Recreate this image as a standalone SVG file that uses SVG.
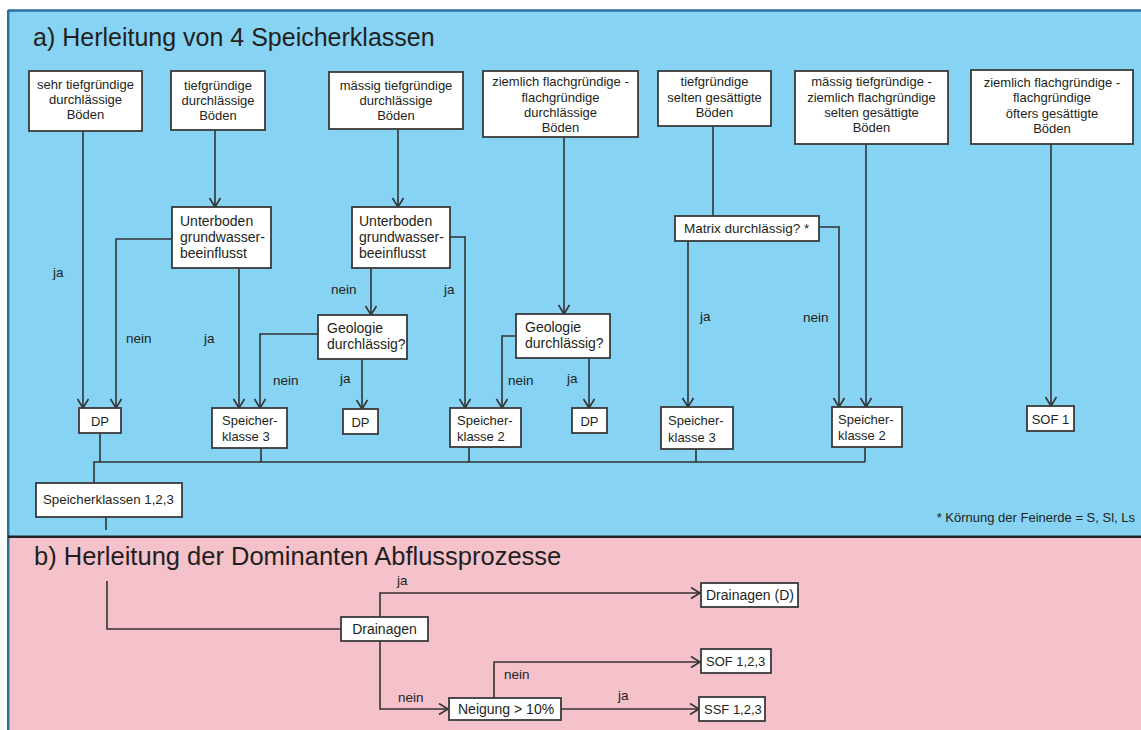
<svg xmlns="http://www.w3.org/2000/svg" width="1141" height="730" viewBox="0 0 1141 730">
<style>
  text { font-family: "Liberation Sans", Arial, sans-serif; fill: #231f20; }
  .box { fill: #ffffff; stroke: #3a3a3a; stroke-width: 1.8; }
  .t13 { font-size: 13px; }
  .t14 { font-size: 14px; }
  .lbl { font-size: 13.5px; }
  .c { text-anchor: middle; }
  .ln { fill: none; stroke: #333333; stroke-width: 1.6; }
  .arr { marker-end: url(#arrow); }
  .title { font-size: 25px; }
</style>
<defs>
  <marker id="arrow" markerUnits="userSpaceOnUse" markerWidth="14" markerHeight="14" viewBox="0 0 14 14" refX="11" refY="6" orient="auto">
    <path d="M2,0.5 L11,6 L2,11.5" fill="none" stroke="#333333" stroke-width="1.6"/>
  </marker>
</defs>

<!-- panels -->
<rect x="0" y="0" width="1141" height="730" fill="#ffffff"/>
<rect x="8" y="10.5" width="1133" height="526" fill="#86d3f4"/>
<rect x="8" y="537" width="1133" height="193" fill="#f5c2cb"/>
<line x1="8" y1="10.5" x2="1141" y2="10.5" stroke="#2b6f9c" stroke-width="2.5"/>
<line x1="8.2" y1="10" x2="8.2" y2="730" stroke="#2b6f9c" stroke-width="2.5"/>
<line x1="8" y1="536.7" x2="1141" y2="536.7" stroke="#232323" stroke-width="2.6"/>

<text class="title" x="33" y="46">a)  Herleitung von 4 Speicherklassen</text>
<text class="title" x="34" y="565" style="font-size:25.5px">b) Herleitung der Dominanten Abflussprozesse</text>
<text class="t13" x="1135" y="522" text-anchor="end">* Körnung der Feinerde = S, Sl, Ls</text>

<!-- connectors -->
<g id="connectors">
  <path class="ln arr" d="M83,131 V408"/>
  <path class="ln arr" d="M172,239 H116 V408"/>
  <path class="ln arr" d="M215,130 V207"/>
  <path class="ln arr" d="M239,268 V408"/>
  <path class="ln arr" d="M398,129 V207"/>
  <path class="ln arr" d="M371,268 V315"/>
  <path class="ln arr" d="M450,237 H465 V408"/>
  <path class="ln arr" d="M318,334 H260 V408"/>
  <path class="ln arr" d="M362,359 V409"/>
  <path class="ln arr" d="M564,137 V314"/>
  <path class="ln arr" d="M516,336 H502 V408"/>
  <path class="ln arr" d="M589,358 V408"/>
  <path class="ln" d="M713,126 V216"/>
  <path class="ln arr" d="M688,241 V407"/>
  <path class="ln arr" d="M819,227 H839 V407"/>
  <path class="ln arr" d="M866,144 V407"/>
  <path class="ln arr" d="M1051,144 V406"/>
  <!-- bus -->
  <path class="ln" d="M94,483 V462 H865"/>
  <path class="ln" d="M100,433 V462"/>
  <path class="ln" d="M261,448 V462"/>
  <path class="ln" d="M469,447 V462"/>
  <path class="ln" d="M696,449 V462"/>
  <path class="ln" d="M865,447 V462"/>
  <path class="ln" d="M106,517 V530"/>
  <!-- section b -->
  <path class="ln" d="M107,581 V629 H341"/>
  <path class="ln arr" d="M380,617 V593 H700"/>
  <path class="ln arr" d="M380,641 V709 H448"/>
  <path class="ln arr" d="M494,698 V662 H700"/>
  <path class="ln arr" d="M561,709 H699"/>

  <!-- labels -->
  <text class="lbl" x="53" y="277">ja</text>
  <text class="lbl" x="126" y="343">nein</text>
  <text class="lbl" x="204" y="343">ja</text>
  <text class="lbl" x="331" y="294">nein</text>
  <text class="lbl" x="444" y="294">ja</text>
  <text class="lbl" x="273" y="385">nein</text>
  <text class="lbl" x="340" y="383">ja</text>
  <text class="lbl" x="508" y="385">nein</text>
  <text class="lbl" x="567" y="383">ja</text>
  <text class="lbl" x="700" y="321">ja</text>
  <text class="lbl" x="803" y="322">nein</text>
  <text class="lbl" x="397" y="585">ja</text>
  <text class="lbl" x="398" y="702">nein</text>
  <text class="lbl" x="504" y="679">nein</text>
  <text class="lbl" x="618" y="700">ja</text>
</g>

<!-- top row -->
<g id="box1">
  <rect class="box" x="29" y="71" width="113" height="60"/>
  <text class="t13 c" x="85.5" y="89">sehr tiefgründige</text>
  <text class="t13 c" x="85.5" y="104">durchlässige</text>
  <text class="t13 c" x="85.5" y="119">Böden</text>
</g>
<g id="box2">
  <rect class="box" x="171" y="71" width="94" height="59"/>
  <text class="t13 c" x="218" y="90">tiefgründige</text>
  <text class="t13 c" x="218" y="105">durchlässige</text>
  <text class="t13 c" x="218" y="120">Böden</text>
</g>
<g id="box3">
  <rect class="box" x="329" y="72" width="134" height="57"/>
  <text class="t13 c" x="396" y="90">mässig tiefgründige</text>
  <text class="t13 c" x="396" y="105">durchlässige</text>
  <text class="t13 c" x="396" y="120">Böden</text>
</g>
<g id="box4">
  <rect class="box" x="483" y="71" width="155" height="66"/>
  <text class="t13 c" x="560.5" y="86">ziemlich flachgründige -</text>
  <text class="t13 c" x="560.5" y="101.5">flachgründige</text>
  <text class="t13 c" x="560.5" y="117">durchlässige</text>
  <text class="t13 c" x="560.5" y="132">Böden</text>
</g>
<g id="box5">
  <rect class="box" x="658" y="71" width="113" height="55"/>
  <text class="t13 c" x="714.5" y="86">tiefgründige</text>
  <text class="t13 c" x="714.5" y="101.5">selten gesättigte</text>
  <text class="t13 c" x="714.5" y="117">Böden</text>
</g>
<g id="box6">
  <rect class="box" x="795" y="71" width="153" height="73"/>
  <text class="t13 c" x="871.5" y="86">mässig tiefgründige -</text>
  <text class="t13 c" x="871.5" y="102">ziemlich flachgründige</text>
  <text class="t13 c" x="871.5" y="117">selten gesättigte</text>
  <text class="t13 c" x="871.5" y="132">Böden</text>
</g>
<g id="box7">
  <rect class="box" x="971" y="70" width="162" height="74"/>
  <text class="t13 c" x="1052" y="87">ziemlich flachgründige -</text>
  <text class="t13 c" x="1052" y="102">flachgründige</text>
  <text class="t13 c" x="1052" y="118">öfters gesättigte</text>
  <text class="t13 c" x="1052" y="133">Böden</text>
</g>

<!-- decisions -->
<g id="unterboden1">
  <rect class="box" x="172" y="207" width="99" height="61"/>
  <text class="t14" x="180" y="226">Unterboden</text>
  <text class="t14" x="180" y="242">grundwasser-</text>
  <text class="t14" x="180" y="258">beeinflusst</text>
</g>
<g id="unterboden2">
  <rect class="box" x="352" y="207" width="98" height="61"/>
  <text class="t14" x="359" y="226">Unterboden</text>
  <text class="t14" x="359" y="242">grundwasser-</text>
  <text class="t14" x="359" y="258">beeinflusst</text>
</g>
<g id="geologie1">
  <rect class="box" x="318" y="315" width="89" height="44"/>
  <text class="t14" x="327" y="333">Geologie</text>
  <text class="t14" x="327" y="349">durchlässig?</text>
</g>
<g id="geologie2">
  <rect class="box" x="516" y="314" width="94" height="44"/>
  <text class="t14" x="525" y="332">Geologie</text>
  <text class="t14" x="525" y="348">durchlässig?</text>
</g>
<g id="matrix">
  <rect class="box" x="675" y="216" width="144" height="25"/>
  <text class="t13" x="684" y="233" style="font-size:13.5px">Matrix durchlässig? *</text>
</g>

<!-- results -->
<g id="dp1">
  <rect class="box" x="79" y="408" width="42" height="25"/>
  <text class="t13 c" x="100" y="426">DP</text>
</g>
<g id="sk3a">
  <rect class="box" x="212" y="408" width="75" height="40"/>
  <text class="t13" x="222" y="425">Speicher-</text>
  <text class="t13" x="222" y="441">klasse 3</text>
</g>
<g id="dp2">
  <rect class="box" x="343" y="409" width="35" height="25"/>
  <text class="t13 c" x="360.5" y="427">DP</text>
</g>
<g id="sk2a">
  <rect class="box" x="450" y="408" width="71" height="39"/>
  <text class="t13" x="457" y="425">Speicher-</text>
  <text class="t13" x="457" y="441">klasse 2</text>
</g>
<g id="dp3">
  <rect class="box" x="572" y="408" width="35" height="25"/>
  <text class="t13 c" x="589.5" y="426">DP</text>
</g>
<g id="sk3b">
  <rect class="box" x="661" y="407" width="72" height="42"/>
  <text class="t13" x="668" y="425">Speicher-</text>
  <text class="t13" x="668" y="442">klasse 3</text>
</g>
<g id="sk2b">
  <rect class="box" x="832" y="407" width="70" height="40"/>
  <text class="t13" x="838" y="424">Speicher-</text>
  <text class="t13" x="838" y="440">klasse 2</text>
</g>
<g id="sof1">
  <rect class="box" x="1027" y="406" width="47" height="25"/>
  <text class="t13 c" x="1050.5" y="424">SOF 1</text>
</g>
<g id="speicherklassen">
  <rect class="box" x="36" y="483" width="146" height="34"/>
  <text class="t13" x="43" y="504" style="font-size:13.3px">Speicherklassen 1,2,3</text>
</g>

<!-- section b nodes -->
<g id="drainagen">
  <rect class="box" x="341" y="617" width="87" height="24"/>
  <text class="t14 c" x="384.5" y="634">Drainagen</text>
</g>
<g id="drainagenD">
  <rect class="box" x="701" y="583" width="97" height="24"/>
  <text class="t14" x="706" y="600">Drainagen (D)</text>
</g>
<g id="sof123">
  <rect class="box" x="701" y="649" width="70" height="24"/>
  <text class="t13" x="706" y="666">SOF 1,2,3</text>
</g>
<g id="neigung">
  <rect class="box" x="449" y="698" width="112" height="22"/>
  <text class="t14" x="458" y="714">Neigung &gt; 10%</text>
</g>
<g id="ssf123">
  <rect class="box" x="699" y="697" width="66" height="24"/>
  <text class="t13" x="704" y="714">SSF 1,2,3</text>
</g>
</svg>
